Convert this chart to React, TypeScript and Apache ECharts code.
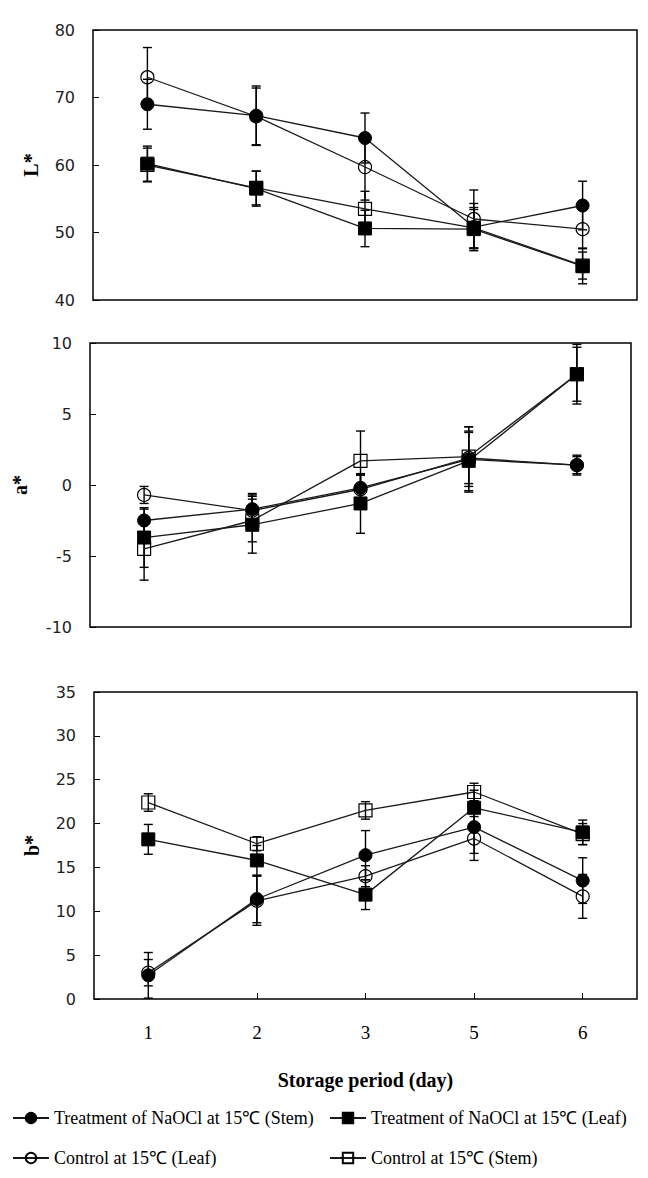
import React, { useEffect, useRef } from "react";
import * as echarts from "echarts";

const days = ["1", "2", "3", "5", "6"];
const seriesNames = [
  "Treatment of NaOCl at 15℃ (Stem)",
  "Treatment of NaOCl at 15℃ (Leaf)",
  "Control at 15℃ (Leaf)",
  "Control at 15℃ (Stem)",
];

// L*
const lTreatStem = [69.0, 67.3, 64.0, 50.8, 54.0];
const lTreatStemErr = [3.7, 4.4, 3.7, 3.5, 3.6];
const lTreatLeaf = [60.2, 56.5, 50.6, 50.5, 45.0];
const lTreatLeafErr = [2.6, 2.6, 2.7, 2.9, 2.6];
const lCtrlLeaf = [73.0, 67.2, 59.7, 52.0, 50.5];
const lCtrlLeafErr = [4.4, 4.2, 4.9, 4.3, 2.8];
const lCtrlStem = [60.0, 56.6, 53.5, 50.7, 45.1];
const lCtrlStemErr = [2.5, 2.5, 2.6, 3.0, 2.0];

// a*
const aTreatStem = [-2.5, -1.7, -0.2, 1.8, 1.4];
const aTreatStemErr = [0.8, 1.0, 0.9, 2.3, 0.7];
const aTreatLeaf = [-3.7, -2.8, -1.3, 1.7, 7.8];
const aTreatLeafErr = [2.1, 2.0, 2.1, 2.1, 2.1];
const aCtrlLeaf = [-0.7, -1.8, -0.3, 1.9, 1.4];
const aCtrlLeafErr = [0.6, 1.2, 1.0, 1.8, 0.6];
const aCtrlStem = [-4.5, -2.5, 1.7, 2.0, 7.8];
const aCtrlStemErr = [2.2, 1.5, 2.1, 2.1, 1.9];

// b*
const bTreatStem = [2.7, 11.4, 16.4, 19.6, 13.5];
const bTreatStemErr = [2.6, 2.7, 2.8, 3.0, 2.6];
const bTreatLeaf = [18.2, 15.8, 11.9, 21.8, 19.0];
const bTreatLeafErr = [1.7, 1.7, 1.7, 2.0, 1.4];
const bCtrlLeaf = [3.0, 11.2, 14.0, 18.3, 11.7];
const bCtrlLeafErr = [1.5, 2.8, 1.2, 2.5, 2.5];
const bCtrlStem = [22.4, 17.7, 21.5, 23.6, 18.8];
const bCtrlStemErr = [1.0, 0.8, 1.0, 1.0, 1.2];

const yNames = ["L*", "a*", "b*"];
const yMins = [40, -10, 0];
const yMaxs = [80, 10, 35];
const yIntervals = [10, 5, 5];

const panelValues = [
  [lTreatStem, lTreatLeaf, lCtrlLeaf, lCtrlStem],
  [aTreatStem, aTreatLeaf, aCtrlLeaf, aCtrlStem],
  [bTreatStem, bTreatLeaf, bCtrlLeaf, bCtrlStem],
];
const panelErrors = [
  [lTreatStemErr, lTreatLeafErr, lCtrlLeafErr, lCtrlStemErr],
  [aTreatStemErr, aTreatLeafErr, aCtrlLeafErr, aCtrlStemErr],
  [bTreatStemErr, bTreatLeafErr, bCtrlLeafErr, bCtrlStemErr],
];

const symbols = ["circle", "rect", "circle", "rect"];
const filled = [true, true, false, false];

export default function App() {
  const ref = useRef<HTMLDivElement>(null);
  useEffect(() => {
    document.body.style.margin = "0";
    if (!ref.current) return;
    const chart = echarts.init(ref.current, null, { renderer: "svg" });

    const grids = [
      { left: 93, top: 30, width: 544, height: 270 },
      { left: 90, top: 343, width: 541, height: 284 },
      { left: 94, top: 692, width: 543, height: 307 },
    ].map((g) => ({ ...g, show: true, borderColor: "#000", borderWidth: 1.5, backgroundColor: "transparent" }));

    const xAxes = [0, 1, 2].map((i) => ({
      type: "category",
      gridIndex: i,
      data: days,
      boundaryGap: true,
      axisLine: { show: false },
      axisTick: { show: i === 2, inside: true, alignWithLabel: true, length: 6, lineStyle: { color: "#000", width: 1 } },
      axisLabel: {
        show: i === 2,
        margin: 24,
        fontFamily: "Liberation Serif",
        fontSize: 19,
        color: "#000",
      },
      splitLine: { show: false },
      name: i === 2 ? "Storage period (day)" : "",
      nameLocation: "middle",
      nameGap: 71,
      nameTextStyle: { fontFamily: "Liberation Serif", fontWeight: "bold", fontSize: 20, color: "#000" },
    }));

    const yAxes = [0, 1, 2].map((i) => ({
      type: "value",
      gridIndex: i,
      min: yMins[i],
      max: yMaxs[i],
      interval: yIntervals[i],
      axisLine: { show: false },
      axisTick: { show: true, inside: true, length: 6, lineStyle: { color: "#000", width: 1 } },
      axisLabel: { margin: 18, fontFamily: "DejaVu Sans", fontSize: 16, color: "#222" },
      splitLine: { show: false },
      name: yNames[i],
      nameLocation: "middle",
      nameGap: i === 1 ? 60 : 52,
      nameTextStyle: { fontFamily: "Liberation Serif", fontWeight: "bold", fontSize: 20, color: "#000" },
    }));

    const series: any[] = [];
    for (let p = 0; p < 3; p++) {
      for (let s = 0; s < 4; s++) {
        const vals = panelValues[p][s];
        const errs = panelErrors[p][s];
        series.push({
          type: "custom",
          name: "err" + p + "-" + s,
          xAxisIndex: p,
          yAxisIndex: p,
          silent: true,
          z: 1,
          data: vals.map((v, i) => [i, v - errs[i], v + errs[i]]),
          encode: { x: 0, y: [1, 2] },
          renderItem: (params: any, api: any) => {
            const x = api.value(0);
            const lo = api.coord([x, api.value(1)]);
            const hi = api.coord([x, api.value(2)]);
            const w = 4.5;
            const st = { stroke: "#000", lineWidth: 1.4 };
            return {
              type: "group",
              children: [
                { type: "line", shape: { x1: lo[0], y1: lo[1], x2: hi[0], y2: hi[1] }, style: st },
                { type: "line", shape: { x1: lo[0] - w, y1: lo[1], x2: lo[0] + w, y2: lo[1] }, style: st },
                { type: "line", shape: { x1: hi[0] - w, y1: hi[1], x2: hi[0] + w, y2: hi[1] }, style: st },
              ],
            };
          },
        });
      }
      for (let s = 0; s < 4; s++) {
        series.push({
          type: "line",
          name: seriesNames[s],
          xAxisIndex: p,
          yAxisIndex: p,
          data: panelValues[p][s],
          z: 3,
          symbol: symbols[s],
          symbolSize: 13,
          showAllSymbol: true,
          lineStyle: { color: "#1a1a1a", width: 1.3 },
          itemStyle: filled[s]
            ? { color: "#000", borderColor: "#000", borderWidth: 1 }
            : { color: "rgba(255,255,255,0)", borderColor: "#000", borderWidth: 1.2 },
          emphasis: { disabled: true },
        });
      }
    }

    const legendBase = {
      itemWidth: 36,
      itemHeight: 13,
      padding: 0,
      itemGap: 0,
      selectedMode: false,
      textStyle: { fontFamily: "Liberation Serif", fontSize: 18, color: "#000" },
    };

    chart.setOption({
      animation: false,
      backgroundColor: "#fff",
      grid: grids,
      xAxis: xAxes,
      yAxis: yAxes,
      legend: [
        { ...legendBase, left: 12, top: 1109, data: [seriesNames[0]] },
        { ...legendBase, left: 329, top: 1109, data: [seriesNames[1]] },
        { ...legendBase, left: 12, top: 1149, data: [seriesNames[2]] },
        { ...legendBase, left: 329, top: 1149, data: [seriesNames[3]] },
      ],
      series,
    });
    return () => chart.dispose();
  }, []);
  return <div ref={ref} style={{ width: 648, height: 1178 }} />;
}
